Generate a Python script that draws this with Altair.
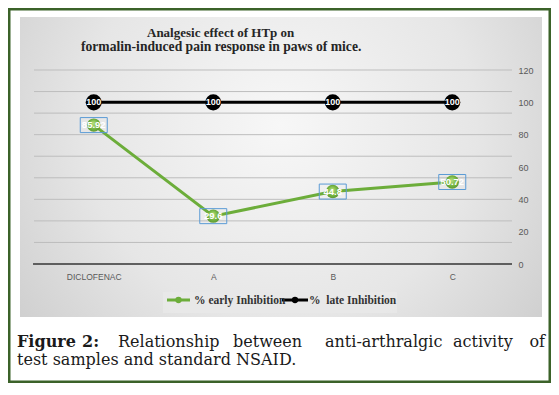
import altair as alt
import pandas as pd

# ---------------- data ----------------
categories = ["DICLOFENAC", "A", "B", "C"]
early = [85.92, 29.6, 44.8, 50.72]
late = [100, 100, 100, 100]
early_labels = ["85.92", "29.6", "44.8", "50.72"]
late_labels = ["100", "100", "100", "100"]
series = ["% early Inhibition", "% \u00a0late Inhibition"]
y_ticks = [0, 20, 40, 60, 80, 100, 120]
grid_vals = [0, 13.33, 26.67, 40, 53.33, 66.67, 80, 93.33, 106.67, 120]
title_lines = ["Analgesic effect of HTp on",
               "formalin-induced pain response in paws of mice."]
caption_line1 = ["Figure", "2:", "Relationship", "between",
                 "anti-arthralgic", "activity", "of"]
caption_line2 = "test samples and standard NSAID."

early_df = pd.DataFrame({"cat": categories, "v": early, "lab": early_labels})
late_df = pd.DataFrame({"cat": categories, "v": late, "lab": late_labels})
grid_df = pd.DataFrame({"v": grid_vals})
one = pd.DataFrame({"a": [0]})

GREEN = "#6cad3a"
W, H = 478, 194

xaxis = alt.Axis(title=None, domain=False, ticks=False, grid=False,
                 labelAngle=0, labelFontSize=8.5, labelColor="#595959",
                 labelFont="Liberation Sans", labelPadding=8, zindex=2)
yaxis = alt.Axis(orient="right", values=y_ticks, tickCount=7, title=None,
                 domain=False, ticks=False, grid=False,
                 labelPadding=6, labelAlign="left", labelFontSize=9,
                 labelColor="#595959", labelFont="Liberation Sans",
                 labelOverlap=False, labelBound=False, labelFlush=False, zindex=2)
xenc = alt.X("cat:N", sort=categories,
             scale=alt.Scale(type="point", padding=0.5), axis=xaxis)
yscale = alt.Scale(domain=[0, 120], nice=False, zero=True)
yenc = alt.Y("v:Q", scale=yscale, axis=yaxis)

panel_grad = alt.RadialGradient(
    gradient="radial", x1=0.5, y1=0.42, r1=0, x2=0.5, y2=0.42, r2=0.75,
    stops=[alt.GradientStop(color="#f7f7f7", offset=0),
           alt.GradientStop(color="#e6e6e6", offset=0.5),
           alt.GradientStop(color="#c4c4c4", offset=1)])
green_grad = alt.RadialGradient(
    gradient="radial", x1=0.45, y1=0.35, r1=0, x2=0.5, y2=0.5, r2=0.6,
    stops=[alt.GradientStop(color="#b8e07e", offset=0),
           alt.GradientStop(color="#74b441", offset=0.6),
           alt.GradientStop(color="#4f8a2a", offset=1)])

layers = []

# outer green frame
layers.append(alt.Chart(one).mark_rect(filled=False, stroke="#3b6229", strokeWidth=2.5)
              .encode(x=alt.value(-24.75), x2=alt.value(515.75),
                      y=alt.value(-60.75), y2=alt.value(311.75)))
# gray chart panel
layers.append(alt.Chart(one).mark_rect(fill=panel_grad)
              .encode(x=alt.value(-14), x2=alt.value(508),
                      y=alt.value(-53), y2=alt.value(247)))
# gridlines
layers.append(alt.Chart(grid_df).mark_rule(color="#bdbdbd", strokeWidth=1)
              .encode(y=yenc, x=alt.value(0), x2=alt.value(W)))
# zero baseline
layers.append(alt.Chart(pd.DataFrame({"v": [0]})).mark_rule(color="#3a3a3a", strokeWidth=1.6)
              .encode(y=yenc, x=alt.value(-1), x2=alt.value(W)))

# legend
layers.append(alt.Chart(one).mark_rect(fill="#e8e8e8", opacity=0.9)
              .encode(x=alt.value(129), x2=alt.value(363),
                      y=alt.value(222), y2=alt.value(243)))
layers.append(alt.Chart(one).mark_rule(color=GREEN, strokeWidth=3)
              .encode(x=alt.value(133), x2=alt.value(156), y=alt.value(230)))
layers.append(alt.Chart(one).mark_circle(color=GREEN, size=40, opacity=1)
              .encode(x=alt.value(144.5), y=alt.value(230)))
layers.append(alt.Chart(one).mark_rule(color="#000000", strokeWidth=3)
              .encode(x=alt.value(248), x2=alt.value(274), y=alt.value(230)))
layers.append(alt.Chart(one).mark_circle(color="#000000", size=40, opacity=1)
              .encode(x=alt.value(261), y=alt.value(230)))
for xpos, s in zip([160, 275], series):
    layers.append(alt.Chart(one).mark_text(text=s, align="left", baseline="middle",
                                           font="Liberation Serif", fontWeight="bold",
                                           fontSize=11.5, color="#333333")
                  .encode(x=alt.value(xpos), y=alt.value(230.5)))

# chart title
for (xpos, ypos, fs), s in zip([(113, -37, 13), (47, -23, 13.6)], title_lines):
    layers.append(alt.Chart(one).mark_text(text=s, align="left", baseline="middle",
                                           font="Liberation Serif", fontWeight="bold",
                                           fontSize=fs, color="#262626")
                  .encode(x=alt.value(xpos), y=alt.value(ypos)))

# caption (justified first line)
cap_x = [-17, 48, 84, 199, 291, 419, 511]
for i, (xpos, word) in enumerate(zip(cap_x, caption_line1)):
    layers.append(alt.Chart(one).mark_text(text=word, align="right" if i == len(caption_line1) - 1 else "left",
                                           baseline="middle", font="DejaVu Serif",
                                           fontWeight="bold" if i < 2 else "normal",
                                           fontSize=16, color="#1a1a1a")
                  .encode(x=alt.value(xpos), y=alt.value(272)))
layers.append(alt.Chart(one).mark_text(text=caption_line2, align="left", baseline="middle",
                                       font="DejaVu Serif", fontSize=16, color="#1a1a1a")
              .encode(x=alt.value(-17), y=alt.value(290)))

# late inhibition series
late_base = alt.Chart(late_df).encode(x=xenc, y=yenc)
layers.append(late_base.mark_line(color="#000000", strokeWidth=3))
layers.append(late_base.mark_circle(color="#000000", size=260, opacity=1))
layers.append(late_base.mark_text(color="white", fontWeight="bold", fontSize=9,
                                  font="Liberation Sans", baseline="middle")
              .encode(text="lab:N"))

# early inhibition series
early_base = alt.Chart(early_df).encode(x=xenc, y=yenc)
layers.append(early_base.mark_line(color=GREEN, strokeWidth=3))
layers.append(early_base.mark_circle(fill=green_grad, size=180, opacity=1))
layers.append(early_base.mark_point(shape="M-1,-0.556H1V0.556H-1Z", size=729,
                                    filled=False, stroke="#5b9bd5", strokeWidth=1,
                                    opacity=1))
layers.append(early_base.mark_text(color="white", fontWeight="bold", fontSize=9.5,
                                   font="Liberation Sans", baseline="middle")
              .encode(text="lab:N"))

chart = alt.layer(*layers).properties(
    width=W, height=H,
    autosize=alt.AutoSizeParams(type="none"),
    padding={"left": 26, "top": 62, "right": 39, "bottom": 119},
    background="white",
).configure_view(stroke=None)

chart.save("out.html", embed_options={"renderer": "svg", "actions": False})
